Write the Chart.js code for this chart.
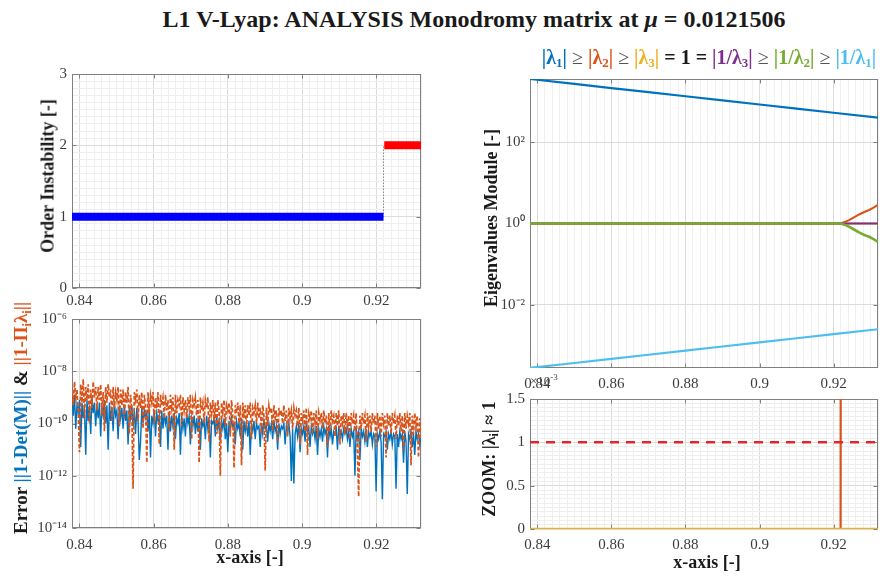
<!DOCTYPE html>
<html>
<head>
<meta charset="utf-8">
<title>L1 V-Lyap monodromy analysis</title>
<script src="https://cdn.jsdelivr.net/npm/chart.js@4.4.0/dist/chart.umd.min.js"></script>
<style>
  html, body { margin: 0; padding: 0; background: #fff; }
  #fig { position: relative; width: 887px; height: 576px; overflow: hidden;
         font-family: 'Liberation Serif', 'Times New Roman', serif; }
  #fig canvas { position: absolute; }
  .txt { position: absolute; white-space: nowrap; font-weight: bold; color: #1a1a1a; z-index: 2; }
  .rot { transform: translate(-50%, -50%) rotate(-90deg); }
  .ctr { transform: translate(-50%, -50%); }
  .txt sub { font-size: 65%; vertical-align: -0.3em; line-height: 0; }
  .geq { font-weight: normal; color: #555; }
</style>
</head>
<body>
<div id="fig">
  <canvas id="orderChart" width="440" height="260" style="left:0;top:60px"></canvas>
  <canvas id="errorChart" width="440" height="245" style="left:0;top:305px"></canvas>
  <canvas id="eigChart" width="437" height="325" style="left:450px;top:65px"></canvas>
  <canvas id="zoomChart" width="437" height="165" style="left:450px;top:385px"></canvas>

  <div class="txt ctr" style="left:474px;top:19px;font-size:24px">L1 V-Lyap: ANALYSIS Monodromy matrix at <i>&mu;</i> = 0.0121506</div>
  <div class="txt ctr" style="left:709px;top:57px;font-size:20px">
    <span style="color:#0072BD">|&lambda;<sub>1</sub>|</span> <span class="geq">&ge;</span>
    <span style="color:#D95319">|&lambda;<sub>2</sub>|</span> <span class="geq">&ge;</span>
    <span style="color:#EDB120">|&lambda;<sub>3</sub>|</span> = 1 =
    <span style="color:#7E2F8E">|1/&lambda;<sub>3</sub>|</span> <span class="geq">&ge;</span>
    <span style="color:#77AC30">|1/&lambda;<sub>2</sub>|</span> <span class="geq">&ge;</span>
    <span style="color:#4DBEEE">|1/&lambda;<sub>1</sub>|</span>
  </div>
  <div class="txt rot" style="left:48px;top:176px;font-size:18px">Order Instability [-]</div>
  <div class="txt rot" style="left:21px;top:418px;font-size:19px">Error <span style="color:#0072BD">||1-Det(M)||</span> &amp; <span style="color:#D95319">||1-&Pi;<sub>i</sub>&lambda;<sub>i</sub>||</span></div>
  <div class="txt rot" style="left:491px;top:218px;font-size:18px">Eigenvalues Module [-]</div>
  <div class="txt rot" style="left:489px;top:459px;font-size:18px">ZOOM: |&lambda;<sub>i</sub>| &asymp; 1</div>
  <div class="txt ctr" style="left:250px;top:557px;font-size:18px">x-axis [-]</div>
  <div class="txt ctr" style="left:707px;top:562px;font-size:18px">x-axis [-]</div>
  <div class="txt" style="left:530px;top:372px;font-size:13px;font-weight:normal;color:#444">&times;10<sup style="font-size:9px">-3</sup></div>
</div>

<script>
// ---- shared family axis ----
const xMin = 0.838, xMax = 0.932;
const xTicks = [0.84, 0.86, 0.88, 0.9, 0.92];
const xTickLabels = ['0.84', '0.86', '0.88', '0.9', '0.92'];

// ---- order of instability ----
const stableX = [0.838, 0.9219];
const stableOrder = [1, 1];
const unstableX = [0.9221, 0.932];
const unstableOrder = [2, 2];
const bifurcationX = 0.9219;
const orderTicks = [0, 1, 2, 3];
const orderTickLabels = ['0', '1', '2', '3'];

// ---- errors, log10 of the value, one entry per orbit of the family ----
const errX0 = 0.838, errDx = 0.0003357;
const detErrExp = [
  -9.0, -9.7, -8.9, -10.2, -9.3, -9.6, -9.1, -10.9, -9.2, -9.8, -9.4, -11.2, -9.1, -9.9, -9.3, -10.4, -9.0, -9.6, -9.2, -10.1,
  -9.3, -9.8, -9.2, -10.5, -9.4, -9.7, -9.1, -10.0, -9.3, -11.0, -9.2, -9.9, -9.4, -10.3, -9.2, -9.7, -9.5, -10.6, -9.3, -9.8,
  -9.4, -10.2, -9.3, -9.9, -9.5, -10.8, -9.4, -9.8, -9.3, -10.1, -9.5, -10.4, -9.4, -9.9, -11.4, -10.7, -9.4, -10.0, -9.5, -9.8,
  -9.6, -10.3, -9.5, -11.3, -9.7, -10.0, -9.5, -10.5, -9.6, -9.9, -9.7, -10.9, -9.5, -10.2, -9.6, -10.0, -9.7, -11.0, -9.6, -10.3,
  -9.7, -10.1, -9.6, -10.6, -9.8, -10.0, -9.6, -11.2, -9.7, -10.2, -9.8, -10.5, -9.6, -10.0, -9.7, -10.8, -9.8, -10.1, -9.7, -10.4,
  -9.8, -10.3, -9.7, -11.0, -9.8, -10.1, -9.9, -10.6, -9.7, -10.2, -9.8, -11.3, -9.9, -10.0, -9.8, -10.5, -9.7, -10.2, -9.9, -10.7,
  -9.9, -10.2, -9.8, -10.6, -10.0, -11.1, -9.9, -10.3, -9.8, -10.1, -10.0, -10.8, -9.9, -10.2, -10.0, -10.5, -9.8, -11.0, -9.9, -10.3,
  -10.0, -10.5, -9.9, -11.2, -10.1, -10.3, -9.9, -10.6, -10.0, -10.2, -10.1, -10.9, -10.0, -10.4, -9.9, -10.2, -10.1, -10.7, -10.0, -10.3,
  -10.0, -10.6, -9.9, -10.3, -10.1, -11.0, -10.0, -10.4, -10.1, -10.2, -10.0, -10.8, -10.1, -10.3, -10.0, -10.5, -12.2, -10.2, -12.3, -10.4,
  -10.1, -10.5, -10.0, -11.1, -10.2, -10.4, -10.1, -10.7, -10.0, -10.3, -10.2, -10.9, -10.1, -10.4, -10.2, -10.6, -10.1, -11.2, -10.2, -10.5,
  -10.2, -10.7, -10.1, -10.4, -10.2, -11.3, -10.1, -10.5, -10.2, -10.8, -10.3, -10.4, -10.2, -11.0, -10.1, -10.5, -10.3, -10.6, -10.2, -10.4,
  -10.2, -10.6, -10.3, -10.9, -10.2, -10.5, -10.3, -12.0, -10.2, -10.6, -10.3, -11.4, -10.2, -10.5, -10.3, -10.7, -10.2, -10.9, -10.3, -10.5,
  -10.3, -10.8, -10.4, -10.5, -12.6, -10.4, -10.6, -10.3, -10.7, -12.9, -10.4, -10.5, -10.3, -11.0, -10.4, -10.6, -10.3, -10.8, -10.4, -10.5,
  -12.5, -10.4, -10.9, -10.3, -10.6, -10.4, -11.5, -10.3, -10.7, -12.7, -10.4, -10.6, -10.3, -10.9, -10.4, -11.2, -10.3, -10.6, -10.4, -10.8,
  -10.5
];
const prodErrExp = [
  -8.6, -9.3, -8.4, -9.0, -8.7, -9.6, -11.1, -8.5, -9.2, -8.3, -9.8, -8.6, -9.1, -8.5, -10.0, -8.7, -9.4, -8.4, -9.0, -8.6,
  -9.5, -8.6, -9.1, -8.5, -9.7, -8.8, -10.3, -8.6, -9.2, -8.5, -9.0, -8.7, -9.9, -8.6, -9.4, -8.8, -9.1, -8.6, -10.1, -8.7,
  -9.3, -8.7, -9.8, -8.8, -9.2, -8.6, -10.4, -8.9, -9.5, -12.5, -8.8, -9.1, -8.7, -9.9, -8.9, -9.4, -8.8, -10.2, -8.9, -9.3,
  -11.5, -8.8, -9.6, -8.9, -9.2, -8.8, -10.0, -9.0, -9.4, -8.8, -10.8, -8.9, -9.3, -9.0, -9.8, -8.9, -9.5, -9.1, -10.3, -8.9,
  -9.4, -9.0, -11.0, -8.9, -9.6, -9.1, -9.3, -8.9, -10.1, -9.0, -9.5, -9.1, -9.8, -9.0, -9.4, -8.9, -10.6, -9.1, -9.3, -9.0,
  -9.7, -9.1, -11.5, -9.0, -9.5, -9.2, -10.0, -9.1, -9.4, -9.0, -10.7, -9.2, -9.6, -9.1, -9.9, -9.2, -10.4, -9.1, -9.5, -12.0,
  -9.2, -9.6, -9.1, -10.1, -9.3, -9.5, -9.2, -10.5, -9.1, -9.7, -11.7, -9.3, -9.6, -9.2, -10.0, -9.3, -11.6, -9.2, -9.8, -9.3,
  -10.2, -9.3, -9.7, -9.2, -10.6, -9.4, -9.6, -9.3, -10.0, -9.2, -9.8, -9.4, -10.4, -9.3, -9.7, -11.8, -9.4, -10.1, -9.3, -9.6,
  -9.4, -10.3, -9.3, -9.8, -9.5, -10.7, -9.4, -9.7, -9.5, -10.0, -9.3, -9.9, -9.5, -10.5, -9.4, -9.8, -9.5, -10.2, -9.4, -9.7,
  -9.5, -10.1, -9.4, -10.8, -9.6, -9.9, -9.5, -10.3, -9.4, -11.2, -9.6, -9.8, -9.5, -10.4, -9.6, -10.0, -9.5, -10.6, -9.6, -9.9,
  -9.6, -10.2, -9.5, -10.0, -9.7, -10.9, -9.6, -10.3, -9.5, -9.9, -9.7, -10.5, -9.6, -10.1, -9.5, -10.8, -9.7, -10.0, -9.6, -10.4,
  -9.6, -10.1, -9.7, -10.6, -9.6, -10.0, -9.7, -10.3, -9.6, -11.1, -12.8, -9.7, -10.2, -9.6, -10.0, -9.7, -10.7, -9.6, -10.1, -9.7,
  -10.3, -9.6, -10.0, -9.7, -10.9, -9.6, -10.2, -9.7, -10.5, -9.6, -10.0, -9.7, -11.3, -9.6, -10.1, -9.7, -10.4, -9.6, -10.0, -9.7,
  -10.6, -9.7, -10.1, -9.6, -10.3, -9.7, -11.0, -9.6, -10.2, -9.7, -10.0, -9.6, -11.6, -9.7, -10.4, -9.6, -10.1, -9.7, -11.3, -9.8,
  -10.6
];
const errTicks = [1e-14, 1e-12, 1e-10, 1e-8, 1e-6];
const errTickLabels = ['10\u207B\u00B9\u2074', '10\u207B\u00B9\u00B2', '10\u207B\u00B9\u2070', '10\u207B\u2078', '10\u207B\u2076'];

// ---- eigenvalue moduli ----
const eigX = [0.838, 0.85, 0.86, 0.87, 0.88, 0.89, 0.90, 0.91, 0.92, 0.932];
const lam1 = [3548, 2685, 2128, 1687, 1337, 1057, 838, 664, 526, 398];
const invLam1 = [2.82e-4, 3.72e-4, 4.70e-4, 5.93e-4, 7.48e-4, 9.46e-4, 1.19e-3, 1.51e-3, 1.90e-3, 2.51e-3];
const bifX = [0.838, 0.9219, 0.9232, 0.9242, 0.9255, 0.9269, 0.9283, 0.9296, 0.9308, 0.932];
const lam2 = [1, 1, 1.10, 1.20, 1.41, 1.66, 1.91, 2.14, 2.45, 2.88];
const invLam2 = [1, 1, 0.91, 0.83, 0.71, 0.60, 0.52, 0.47, 0.41, 0.35];
const unitX = [0.838, 0.932];
const lam3 = [1, 1];
const invLam3 = [1, 1];
const eigMin = 2.8e-4, eigMax = 3550;
const eigTicks = [1e-2, 1, 1e2];
const eigTickLabels = ['10\u207B\u00B2', '10\u2070', '10\u00B2'];

// ---- zoom around the unit circle: |lambda| - 1 ----
const lam2Dev = [0, 0, 0.10, 0.20, 0.41, 0.66, 0.91, 1.14, 1.45, 1.88];
const lam3Dev = [0, 0];
const zoomThreshold = 1e-3;
const zoomTicks = [0, 0.5e-3, 1e-3, 1.5e-3];
const zoomTickLabels = ['0', '0.5', '1', '1.5'];

const C = {
  l1: '#0072BD', l2: '#D95319', l3: '#EDB120',
  i3: '#7E2F8E', i2: '#77AC30', i1: '#4DBEEE'
};
const MAJOR = '#dcdcdc', MINOR = '#efefef';
const TICK_FONT = { family: "'Liberation Serif', 'Times New Roman', serif", size: 15 };
const TICK_COLOR = '#3c3c3c';

function gridValues(lo, hi, step) {
  const out = [];
  const n = Math.round((hi - lo) / step);
  for (let i = 0; i <= n; i++) out.push(+(lo + i * step).toFixed(9));
  return out;
}
function findTick(list, v) {
  return list.findIndex(m => Math.abs(m - v) <= (m === 0 ? 1e-12 : Math.abs(m) * 1e-6));
}
function pts(xs, ys) {
  return xs.map((x, i) => ({ x: x, y: ys[i] }));
}
function line(data, color, width, extra) {
  return Object.assign({
    data: data, borderColor: color, borderWidth: width,
    pointRadius: 0, tension: 0, fill: false
  }, extra || {});
}

// scale builders
function xScale(height, pad) {
  const grid = gridValues(xMin, xMax, 0.002);
  return {
    type: 'linear', min: xMin, max: xMax,
    afterBuildTicks: s => { s.ticks = grid.map(v => ({ value: v })); },
    afterFit: s => { s.height = height; },
    border: { display: false },
    grid: { drawTicks: false, color: c => findTick(xTicks, c.tick.value) >= 0 ? MAJOR : MINOR },
    ticks: {
      autoSkip: false, maxRotation: 0, minRotation: 0, padding: pad,
      font: TICK_FONT, color: TICK_COLOR,
      callback: v => { const k = findTick(xTicks, v); return k < 0 ? '' : xTickLabels[k]; }
    }
  };
}
function yScale(type, min, max, values, majors, labels, width) {
  return {
    type: type, min: min, max: max,
    afterBuildTicks: s => { s.ticks = values.map(v => ({ value: v })); },
    afterFit: s => { s.width = width; },
    border: { display: false },
    grid: { drawTicks: false, color: c => findTick(majors, c.tick.value) >= 0 ? MAJOR : MINOR },
    ticks: {
      autoSkip: false, padding: 5, font: TICK_FONT, color: TICK_COLOR,
      callback: v => { const k = findTick(majors, v); return k < 0 ? '' : labels[k]; }
    }
  };
}

// axes box with inward tick marks, drawn under the data
const boxPlugin = {
  id: 'box',
  beforeDatasetsDraw(chart, args, opts) {
    const { ctx, chartArea: a, scales } = chart;
    const l = Math.round(a.left) + 0.5, r = Math.round(a.right) - 0.5;
    const t = Math.round(a.top) + 0.5, b = Math.round(a.bottom) - 0.5;
    ctx.save();
    ctx.strokeStyle = '#808080';
    ctx.lineWidth = 1;
    ctx.strokeRect(l, t, r - l, b - t);
    ctx.beginPath();
    (opts.xMajor || []).forEach(v => {
      const px = Math.round(scales.x.getPixelForValue(v)) + 0.5;
      ctx.moveTo(px, b); ctx.lineTo(px, b - 4);
      ctx.moveTo(px, t); ctx.lineTo(px, t + 4);
    });
    (opts.yMajor || []).forEach(v => {
      const py = Math.round(scales.y.getPixelForValue(v)) + 0.5;
      ctx.moveTo(l, py); ctx.lineTo(l + 4, py);
      ctx.moveTo(r, py); ctx.lineTo(r - 4, py);
    });
    ctx.stroke();
    ctx.restore();
  }
};

function makeChart(id, datasets, scales, padding, yMajor) {
  return new Chart(document.getElementById(id), {
    type: 'line',
    data: { datasets: datasets },
    options: {
      responsive: false, animation: false, devicePixelRatio: 1,
      layout: { padding: padding },
      plugins: {
        legend: { display: false }, tooltip: { enabled: false },
        box: { xMajor: xTicks, yMajor: yMajor }
      },
      scales: scales
    },
    plugins: [boxPlugin]
  });
}

// order of instability (top left)
makeChart('orderChart', [
  line(pts(stableX, stableOrder), '#0000ff', 8, { borderCapStyle: 'butt', order: 1 }),
  line(pts(unstableX, unstableOrder), '#ff0000', 8, { borderCapStyle: 'butt', order: 1 }),
  line(pts([bifurcationX, bifurcationX], [1, 2]), '#555555', 1, { borderDash: [1, 2], order: 2 })
], {
  x: xScale(32, 4),
  y: yScale('linear', 0, 3, gridValues(0, 3, 0.1), orderTicks, orderTickLabels, 72)
}, { top: 13, right: 19, left: 0, bottom: 0 }, orderTicks);

// determinant and product errors (bottom left)
const errX = detErrExp.map((_, i) => errX0 + i * errDx);
makeChart('errorChart', [
  line(pts(errX, detErrExp.map(e => Math.pow(10, e))), C.l1, 1.4, { order: 2 }),
  line(pts(errX, prodErrExp.map(e => Math.pow(10, e))), C.l2, 1.7, { borderDash: [4, 2], order: 1 })
], {
  x: xScale(22, 8),
  y: yScale('logarithmic', 1e-14, 1e-6, errTicks, errTicks, errTickLabels, 72)
}, { top: 9, right: 19, left: 0, bottom: 0 }, errTicks);

// eigenvalue moduli (top right)
makeChart('eigChart', [
  line(pts(eigX, lam1), C.l1, 2.2, { order: 6 }),
  line(pts(bifX, lam2), C.l2, 2, { order: 5 }),
  line(pts(unitX, lam3), C.l3, 2, { order: 4 }),
  line(pts(unitX, invLam3), C.i3, 2, { order: 3 }),
  line(pts(bifX, invLam2), C.i2, 2.6, { order: 2 }),
  line(pts(eigX, invLam1), C.i1, 2.2, { order: 1 })
], {
  x: xScale(22, 7),
  y: yScale('logarithmic', eigMin, eigMax, eigTicks, eigTicks, eigTickLabels, 80)
}, { top: 7, right: 9, left: 0, bottom: 0 }, eigTicks);

// zoom on |lambda| ~ 1 (bottom right)
makeChart('zoomChart', [
  line(pts(bifX, lam2Dev), C.l2, 2.2, { order: 3 }),
  line(pts(unitX, lam3Dev), C.l3, 2.6, { order: 2 }),
  line(pts(unitX, [zoomThreshold, zoomThreshold]), '#e3262b', 2.5, { borderDash: [9, 7], order: 1 })
], {
  x: xScale(21, 7),
  y: yScale('linear', 0, 1.5e-3, gridValues(0, 1.5e-3, 0.05e-3), zoomTicks, zoomTickLabels, 80)
}, { top: 9, right: 9, left: 0, bottom: 0 }, zoomTicks);
</script>
</body>
</html>
